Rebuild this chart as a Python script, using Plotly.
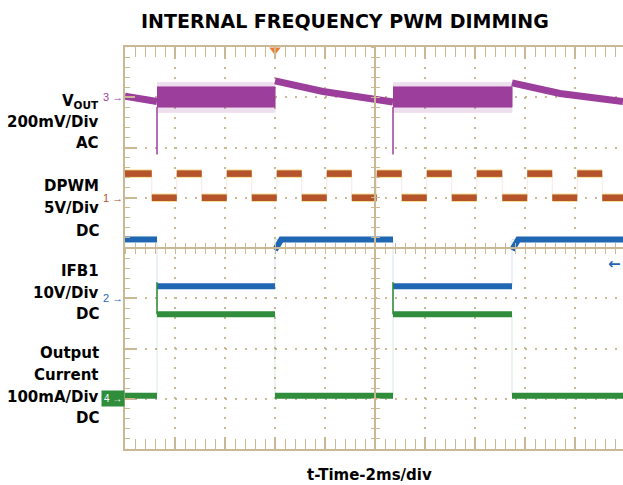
import plotly.graph_objects as go

# ---- data (time in ms, 2 ms/div, 0 = screen centre) ----
t_on = [-8.72, 0.72]          # LED current switches on
t_off = [-4.0, 5.48]          # LED current switches off
t_trig = -4.0                 # trigger marker

# ch1 DPWM, 5 V/div, DC : internal 500 Hz square wave, starts high
dpwm_edges = [-8.93, -7.93, -6.93, -5.93, -4.93, -3.93, -2.93, -1.93, -0.93, 0.07,
              1.07, 2.07, 3.07, 4.07, 5.09, 6.09, 7.09, 8.09, 9.09]
dpwm_hi = 2.4                 # V
dpwm_lo = 0.0

# ch3 VOUT, 200 mV/div, AC
vout_off_t = [[-10.0, -8.72], [-4.0, -2.08, 0.72], [5.48, 7.4, 9.92]]
vout_off_mv = [[4, -17], [65, 23, -19], [57, 15, -17]]
vout_band_mv = [41, -39]      # ripple envelope while LED is on
vout_spike_mv = [58, -60]     # ripple peaks
vout_dip_mv = -228            # undershoot at turn on

# ch2 IFB1, 10 V/div, DC
ifb_hi = 11.7
ifb_lo = 2.4
ifb_rise_v = 9.6              # level where the slow rise starts
ifb_rise_ms = 0.25

# ch4 output current, 100 mA/div, DC
iout_hi = 168
iout_lo = 6
iout_peak = 232               # turn-on overshoot

# channel: (offset in div, units per div)
ch = {"vout": (3, 200), "dpwm": (1, 5), "ifb": (-1, 10), "iout": (-3, 100)}

PURPLE = "#9C3F9C"
BROWN = "#B5532A"
YELLOW = "#EAC22A"
BLUE = "#1F66B3"
GREEN = "#2F8D3C"
TAN = "#C9B893"
X0, X1 = -10.0, 9.92


def dv(name, v):
    off, scale = ch[name]
    return off + v / scale


bounds = [X0] + sorted(t_on + t_off) + [X1]
periods = [(a, b, a in t_on) for a, b in zip(bounds[:-1], bounds[1:])]

fig = go.Figure()


def line(x, y, color, width, opacity=1.0):
    fig.add_trace(go.Scatter(x=x, y=y, mode="lines", opacity=opacity,
                             line=dict(color=color, width=width),
                             hoverinfo="skip", showlegend=False))


def band(a, b, hi, lo, color, opacity):
    fig.add_trace(go.Scatter(x=[a, b, b, a], y=[hi, hi, lo, lo], fill="toself",
                             fillcolor=color, mode="lines", opacity=opacity,
                             line=dict(color=color, width=1),
                             hoverinfo="skip", showlegend=False))


# ---- faint vertical transitions ----
for name, hi, lo, col, on_is_hi in [("ifb", ifb_hi, ifb_lo, BLUE, False),
                                    ("iout", iout_hi, iout_lo, GREEN, True)]:
    xs, ys = [], []
    for a, b, on in periods:
        lvl = hi if on == on_is_hi else lo
        xs += [a, b]
        ys += [dv(name, lvl), dv(name, lvl)]
    line(xs, ys, col, 1, 0.18)

dp_b = [X0] + dpwm_edges + [X1]
xs, ys = [], []
for i, (a, b) in enumerate(zip(dp_b[:-1], dp_b[1:])):
    lvl = dpwm_hi if i % 2 == 0 else dpwm_lo
    xs += [a, b]
    ys += [dv("dpwm", lvl)] * 2
line(xs, ys, BROWN, 1, 0.12)

# ---- DPWM ----
xs, ys = [], []
for i, (a, b) in enumerate(zip(dp_b[:-1], dp_b[1:])):
    lvl = dpwm_hi if i % 2 == 0 else dpwm_lo
    xs += [a, b, None]
    ys += [dv("dpwm", lvl)] * 2 + [None]
line(xs, ys, YELLOW, 8.5, 0.5)
line(xs, ys, BROWN, 6.5)

# ---- VOUT ----
for a, b, on in periods:
    if on:
        band(a, b, dv("vout", vout_spike_mv[0]), dv("vout", vout_spike_mv[1]), PURPLE, 0.16)
        band(a, b, dv("vout", vout_band_mv[0]), dv("vout", vout_band_mv[1]), PURPLE, 1.0)
        line([a, a], [dv("vout", vout_band_mv[1]), dv("vout", vout_dip_mv)], PURPLE, 1.5)
for tt, mv in zip(vout_off_t, vout_off_mv):
    line(tt, [dv("vout", v) for v in mv], PURPLE, 7)

# ---- IFB1 ----
xs, ys = [], []
for a, b, on in periods:
    if on:
        xs += [a, b, None]
        ys += [dv("ifb", ifb_lo)] * 2 + [None]
    elif a in t_off:
        xs += [a, a + ifb_rise_ms, b, None]
        ys += [dv("ifb", ifb_rise_v), dv("ifb", ifb_hi), dv("ifb", ifb_hi), None]
    else:
        xs += [a, b, None]
        ys += [dv("ifb", ifb_hi)] * 2 + [None]
line(xs, ys, BLUE, 6)

# ---- output current ----
xs, ys = [], []
for a, b, on in periods:
    lvl = iout_hi if on else iout_lo
    xs += [a, b, None]
    ys += [dv("iout", lvl)] * 2 + [None]
line(xs, ys, GREEN, 6)
for a in t_on:
    line([a, a], [dv("iout", iout_hi), dv("iout", iout_peak)], GREEN, 2, 0.8)

# trigger marker
fig.add_trace(go.Scatter(x=[t_trig], y=[3.94], mode="markers", cliponaxis=False,
                         marker=dict(symbol="triangle-down", size=10, color="#F07A32"),
                         hoverinfo="skip", showlegend=False))

FONT = "DejaVu Sans"
ann = []
ann.append(dict(text="INTERNAL FREQUENCY PWM DIMMING", xref="paper", yref="paper",
                x=(344.5 - 125) / 498, y=(449 - 21.5) / 402, xanchor="center",
                yanchor="middle", showarrow=False,
                font=dict(family=FONT, size=19, color="black", weight="bold")))
ann.append(dict(text="t-Time-2ms/div", xref="paper", yref="paper",
                x=(369 - 125) / 498, y=(449 - 475) / 402, xanchor="center",
                yanchor="middle", showarrow=False,
                font=dict(family=FONT, size=15, color="black", weight="bold")))
labels = [("V<sub>OUT</sub>", 101), ("200mV/Div", 122), ("AC", 143),
          ("DPWM", 186.5), ("5V/Div", 208), ("DC", 231),
          ("IFB1", 271), ("10V/Div", 293), ("DC", 314),
          ("Output", 353), ("Current", 375), ("100mA/Div", 397), ("DC", 418)]
for txt, py in labels:
    ann.append(dict(text=txt, xref="paper", yref="paper", x=(101 - 125) / 498,
                    y=(449 - py) / 402, xanchor="right", yanchor="middle",
                    showarrow=False,
                    font=dict(family=FONT, size=15, color="black", weight="bold")))
for name, num, col in [("vout", "3", PURPLE), ("dpwm", "1", BROWN), ("ifb", "2", BLUE)]:
    ann.append(dict(text=num + " \u2192", x=X0, y=ch[name][0], xanchor="right",
                    yanchor="middle", showarrow=False,
                    font=dict(family="Liberation Sans", size=11, color=col)))
ann.append(dict(text="4 \u2192", x=X0, y=ch["iout"][0], xanchor="right",
                yanchor="middle", showarrow=False, bgcolor=GREEN, borderpad=2,
                font=dict(family="Liberation Sans", size=10, color="white")))
ann.append(dict(text="\u2190", x=X1, y=-0.32, xanchor="right", yanchor="middle",
                showarrow=False,
                font=dict(family="DejaVu Sans", size=15, color=BLUE, weight="bold")))

ax_common = dict(showticklabels=False, zeroline=False, tickcolor=TAN, linecolor=TAN,
                 automargin=False)
fig.update_layout(
    width=623, height=485,
    margin=dict(l=125, r=0, t=47, b=36),
    paper_bgcolor="white", plot_bgcolor="white",
    annotations=ann,
    xaxis=dict(range=[X0, X1], showline=True, linewidth=1.5, mirror="allticks",
               ticks="inside", ticklen=10, tickwidth=1.5, tick0=0, dtick=2,
               showgrid=True, gridcolor=TAN, gridwidth=1.5, griddash="1.5px,8.5px",
               minor=dict(ticks="inside", ticklen=5, tickwidth=1.2, tick0=0, dtick=0.4,
                          tickcolor=TAN, showgrid=False),
               **ax_common),
    yaxis=dict(range=[-4, 4], showline=True, linewidth=1.5,
               ticks="inside", ticklen=10, tickwidth=1.5, tick0=0, dtick=1,
               showgrid=True, gridcolor=TAN, gridwidth=1.5, griddash="1.5px,8.5px",
               minor=dict(ticks="inside", ticklen=5, tickwidth=1.2, tick0=0, dtick=0.2,
                          tickcolor=TAN, showgrid=False),
               **ax_common),
    xaxis2=dict(range=[X0, X1], overlaying="x", anchor="free", position=0.5,
                showline=True, linewidth=1.5, ticks="inside", ticklen=4.5,
                tickwidth=1.2, tick0=0, dtick=0.4, showgrid=False, **ax_common),
    xaxis3=dict(range=[X0, X1], overlaying="x", anchor="free", position=0.5,
                showline=False, ticks="outside", ticklen=4.5,
                tickwidth=1.2, tick0=0, dtick=0.4, showgrid=False, **ax_common),
    yaxis2=dict(range=[-4, 4], overlaying="y", anchor="free", position=-X0 / (X1 - X0),
                showline=True, linewidth=1.5, ticks="inside", ticklen=4.5,
                tickwidth=1.2, tick0=0, dtick=0.2, showgrid=False, **ax_common),
    yaxis3=dict(range=[-4, 4], overlaying="y", anchor="free", position=-X0 / (X1 - X0),
                showline=False, ticks="outside", ticklen=4.5,
                tickwidth=1.2, tick0=0, dtick=0.2, showgrid=False, **ax_common),
)
# empty traces so the crosshair axes get drawn
for xa, ya in [("x2", "y"), ("x3", "y"), ("x", "y2"), ("x", "y3")]:
    fig.add_trace(go.Scatter(x=[None], y=[None], xaxis=xa, yaxis=ya,
                             showlegend=False, hoverinfo="skip"))

# drop the browser's default 8px page margin so the figure sits at 0,0
fig.write_html("out.html", config={"displayModeBar": False},
               post_script="document.body.style.margin='0';")
